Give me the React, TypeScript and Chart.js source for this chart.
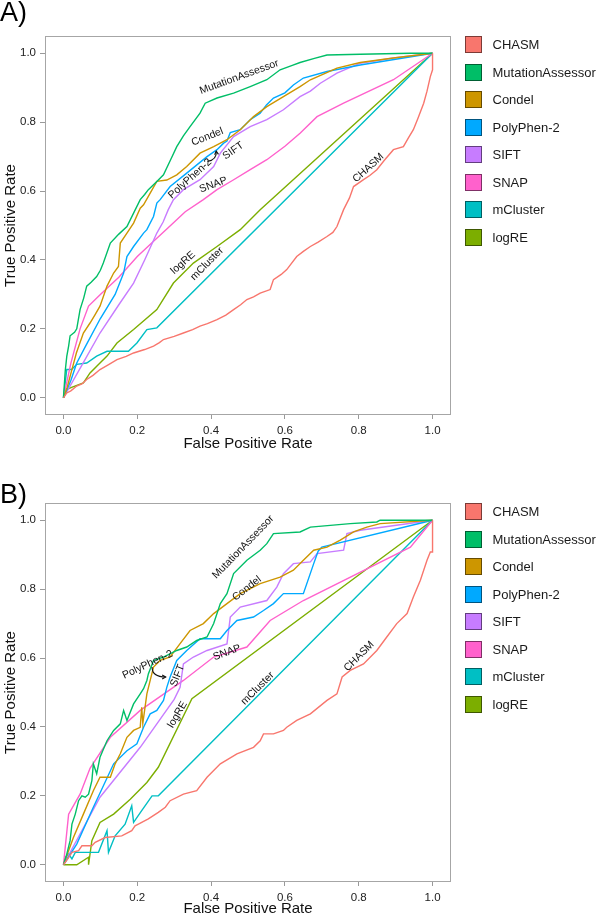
import React, { useEffect, useRef } from "react";
import { Chart, registerables } from "chart.js";

Chart.register(...registerables);

// ---- categories / styling keys ----
const METHODS = ["CHASM", "MutationAssessor", "Condel", "PolyPhen-2", "SIFT", "SNAP", "mCluster", "logRE"];
const COLORS = ["#F8766D", "#00BE67", "#CD9600", "#00A9FF", "#C77CFF", "#FF61CC", "#00BFC4", "#7CAE00"];
const X_TICKS = [0, 0.2, 0.4, 0.6, 0.8, 1.0];
const Y_TICKS = [0, 0.2, 0.4, 0.6, 0.8, 1.0];

// ---- Panel A: [false positive rate, true positive rate] ----
const chasmA = [
  [0, 0], [0.009, 0.014], [0.02, 0.02], [0.036, 0.034], [0.05, 0.04], [0.063, 0.053], [0.08, 0.065], [0.099, 0.082],
  [0.12, 0.095], [0.145, 0.111], [0.17, 0.12], [0.19, 0.13], [0.22, 0.14], [0.244, 0.15], [0.26, 0.16], [0.271, 0.169],
  [0.3, 0.178], [0.325, 0.188], [0.35, 0.198], [0.37, 0.208], [0.39, 0.215], [0.416, 0.227], [0.44, 0.24], [0.461, 0.256],
  [0.48, 0.27], [0.497, 0.285], [0.515, 0.293], [0.533, 0.304], [0.55, 0.31], [0.56, 0.314], [0.569, 0.343], [0.59, 0.358],
  [0.605, 0.372], [0.632, 0.41], [0.65, 0.425], [0.669, 0.439], [0.69, 0.452], [0.714, 0.468], [0.73, 0.48], [0.741, 0.497],
  [0.759, 0.546], [0.775, 0.58], [0.786, 0.613], [0.813, 0.633], [0.83, 0.645], [0.849, 0.662], [0.87, 0.69], [0.894, 0.72],
  [0.921, 0.729], [0.935, 0.755], [0.948, 0.778], [0.96, 0.81], [0.976, 0.855], [0.985, 0.89], [0.994, 0.932], [1, 0.952], [1, 1],
];
const mutA = [
  [0, 0], [0.005, 0.08], [0.009, 0.12], [0.014, 0.15], [0.018, 0.18], [0.03, 0.19], [0.036, 0.2], [0.045, 0.256],
  [0.055, 0.29], [0.063, 0.324], [0.075, 0.335], [0.09, 0.352], [0.1, 0.37], [0.108, 0.391], [0.127, 0.449], [0.15, 0.475],
  [0.172, 0.497], [0.19, 0.536], [0.208, 0.575], [0.22, 0.59], [0.23, 0.604], [0.253, 0.628], [0.271, 0.647], [0.29, 0.69],
  [0.307, 0.729], [0.325, 0.76], [0.343, 0.787], [0.37, 0.826], [0.384, 0.855], [0.416, 0.87], [0.461, 0.884], [0.506, 0.903],
  [0.551, 0.923], [0.587, 0.952], [0.62, 0.965], [0.641, 0.973], [0.68, 0.985], [0.714, 0.995], [0.804, 0.997], [0.94, 1], [1, 1],
];
const condelA = [
  [0, 0], [0.01, 0.03], [0.02, 0.07], [0.035, 0.13], [0.054, 0.188], [0.072, 0.217], [0.085, 0.24], [0.099, 0.266],
  [0.118, 0.324], [0.136, 0.362], [0.149, 0.381], [0.154, 0.449], [0.172, 0.478], [0.19, 0.507], [0.208, 0.55], [0.217, 0.56],
  [0.235, 0.594], [0.253, 0.628], [0.28, 0.632], [0.307, 0.647], [0.334, 0.671], [0.37, 0.71], [0.407, 0.729], [0.443, 0.749],
  [0.479, 0.778], [0.515, 0.816], [0.551, 0.845], [0.596, 0.874], [0.641, 0.903], [0.669, 0.923], [0.741, 0.957], [0.804, 0.973],
  [0.894, 0.986], [1, 1],
];
const ppA = [
  [0, 0], [0.02, 0.05], [0.036, 0.101], [0.06, 0.15], [0.1, 0.23], [0.14, 0.3], [0.163, 0.362], [0.172, 0.41], [0.19, 0.439],
  [0.217, 0.478], [0.226, 0.488], [0.244, 0.526], [0.253, 0.565], [0.262, 0.575], [0.289, 0.613], [0.334, 0.652], [0.389, 0.7],
  [0.416, 0.72], [0.434, 0.739], [0.443, 0.745], [0.452, 0.77], [0.479, 0.778], [0.506, 0.807], [0.533, 0.826], [0.55, 0.85],
  [0.569, 0.87], [0.6, 0.885], [0.623, 0.908], [0.65, 0.928], [0.714, 0.947], [0.804, 0.966], [1, 1],
];
const siftA = [
  [0, 0], [0.05, 0.095], [0.099, 0.188], [0.15, 0.27], [0.19, 0.333], [0.22, 0.4], [0.253, 0.478], [0.27, 0.51], [0.284, 0.546],
  [0.298, 0.575], [0.325, 0.604], [0.37, 0.633], [0.407, 0.671], [0.425, 0.71], [0.461, 0.758], [0.506, 0.787], [0.551, 0.807],
  [0.596, 0.836], [0.641, 0.874], [0.669, 0.89], [0.696, 0.913], [0.741, 0.942], [0.804, 0.971], [0.894, 0.986], [1, 1],
];
const snapA = [
  [0, 0], [0.02, 0.1], [0.045, 0.2], [0.068, 0.266], [0.1, 0.3], [0.15, 0.35], [0.2, 0.41], [0.25, 0.46], [0.28, 0.49],
  [0.33, 0.54], [0.379, 0.575], [0.416, 0.604], [0.46, 0.632], [0.506, 0.662], [0.551, 0.691], [0.6, 0.73], [0.641, 0.768],
  [0.687, 0.816], [0.759, 0.855], [0.894, 0.923], [1, 1],
];
const mclA = [
  [0, 0], [0.009, 0.082], [0.022, 0.082], [0.036, 0.097], [0.063, 0.101], [0.09, 0.121], [0.118, 0.135], [0.176, 0.135],
  [0.199, 0.159], [0.226, 0.198], [0.253, 0.203], [1, 1],
];
const logreA = [
  [0, 0], [0.009, 0.024], [0.022, 0.03], [0.054, 0.043], [0.072, 0.072], [0.099, 0.101], [0.118, 0.121], [0.145, 0.159],
  [0.19, 0.198], [0.253, 0.256], [0.298, 0.333], [0.352, 0.391], [0.416, 0.439], [0.479, 0.488], [0.533, 0.546], [1, 1],
];

// ---- Panel B ----
const chasmB = [
  [0, 0], [0.014, 0.021], [0.023, 0.036], [0.041, 0.041], [0.05, 0.055], [0.077, 0.055], [0.086, 0.065], [0.113, 0.079],
  [0.158, 0.084], [0.185, 0.099], [0.194, 0.113], [0.203, 0.118], [0.23, 0.133], [0.257, 0.152], [0.276, 0.167], [0.289, 0.186],
  [0.325, 0.205], [0.361, 0.215], [0.389, 0.254], [0.425, 0.293], [0.47, 0.322], [0.515, 0.341], [0.533, 0.36], [0.542, 0.38],
  [0.569, 0.38], [0.596, 0.39], [0.605, 0.399], [0.632, 0.419], [0.669, 0.438], [0.714, 0.477], [0.741, 0.496], [0.755, 0.545],
  [0.777, 0.564], [0.813, 0.583], [0.849, 0.622], [0.876, 0.661], [0.903, 0.7], [0.931, 0.729], [0.948, 0.777], [0.967, 0.826],
  [0.985, 0.884], [0.994, 0.908], [1, 0.908], [1, 1],
];
const mutB = [
  [0, 0], [0.009, 0.031], [0.018, 0.07], [0.023, 0.118], [0.032, 0.147], [0.041, 0.186], [0.05, 0.2], [0.059, 0.196],
  [0.068, 0.205], [0.077, 0.244], [0.081, 0.293], [0.09, 0.264], [0.099, 0.312], [0.118, 0.36], [0.136, 0.39], [0.154, 0.409],
  [0.163, 0.448], [0.172, 0.419], [0.19, 0.467], [0.208, 0.496], [0.217, 0.511], [0.226, 0.535], [0.23, 0.554], [0.244, 0.593],
  [0.271, 0.603], [0.307, 0.622], [0.334, 0.632], [0.361, 0.651], [0.389, 0.661], [0.407, 0.7], [0.425, 0.758], [0.443, 0.787],
  [0.461, 0.845], [0.497, 0.884], [0.533, 0.913], [0.551, 0.932], [0.569, 0.961], [0.641, 0.966], [0.669, 0.98], [0.777, 0.99],
  [0.849, 0.995], [0.858, 1], [1, 1],
];
const condelB = [
  [0, 0], [0.027, 0.079], [0.054, 0.147], [0.081, 0.215], [0.099, 0.254], [0.127, 0.254], [0.14, 0.293], [0.154, 0.322],
  [0.172, 0.37], [0.19, 0.39], [0.208, 0.399], [0.212, 0.457], [0.215, 0.41], [0.226, 0.496], [0.235, 0.535], [0.244, 0.574],
  [0.262, 0.593], [0.289, 0.603], [0.316, 0.642], [0.343, 0.68], [0.379, 0.7], [0.407, 0.729], [0.443, 0.758], [0.479, 0.787],
  [0.533, 0.816], [0.587, 0.835], [0.623, 0.855], [0.65, 0.884], [0.678, 0.913], [0.714, 0.922], [0.75, 0.942], [0.786, 0.966],
  [0.822, 0.98], [0.858, 0.99], [1, 1],
];
const ppB = [
  [0, 0], [0.036, 0.06], [0.081, 0.167], [0.136, 0.293], [0.172, 0.331], [0.199, 0.351], [0.217, 0.399], [0.235, 0.438],
  [0.253, 0.448], [0.271, 0.477], [0.28, 0.515], [0.289, 0.545], [0.307, 0.593], [0.334, 0.622], [0.37, 0.656], [0.425, 0.656],
  [0.443, 0.68], [0.47, 0.709], [0.515, 0.719], [0.542, 0.738], [0.569, 0.758], [0.596, 0.787], [0.65, 0.787], [0.678, 0.874],
  [0.69, 0.91], [0.7, 0.922], [1, 1],
];
const siftB = [
  [0, 0], [0.099, 0.196], [0.208, 0.341], [0.3, 0.48], [0.316, 0.515], [0.325, 0.583], [0.352, 0.603], [0.389, 0.622],
  [0.443, 0.641], [0.452, 0.719], [0.479, 0.748], [0.551, 0.767], [0.578, 0.806], [0.596, 0.845], [0.623, 0.874], [0.669, 0.879],
  [0.687, 0.903], [0.759, 0.913], [0.768, 0.961], [0.804, 0.971], [1, 1],
];
const snapB = [
  [0, 0], [0.014, 0.147], [0.045, 0.205], [0.072, 0.28], [0.127, 0.37], [0.208, 0.448], [0.325, 0.535], [0.407, 0.603],
  [0.497, 0.632], [0.56, 0.709], [0.65, 0.767], [0.94, 0.922], [1, 1],
];
const mclB = [
  [0, 0], [0.005, 0.021], [0.014, 0.031], [0.023, 0.017], [0.032, 0.036], [0.095, 0.036], [0.118, 0.099], [0.122, 0.036],
  [0.14, 0.084], [0.167, 0.118], [0.185, 0.171], [0.19, 0.123], [0.212, 0.157], [0.24, 0.2], [0.257, 0.2], [1, 1],
];
const logreB = [
  [0, 0], [0.036, 0], [0.068, 0.022], [0.068, 0], [0.077, 0.07], [0.099, 0.123], [0.136, 0.147], [0.181, 0.19],
  [0.226, 0.239], [0.257, 0.283], [0.348, 0.482], [1, 1],
];

const SERIES_A = [chasmA, mutA, condelA, ppA, siftA, snapA, mclA, logreA];
const SERIES_B = [chasmB, mutB, condelB, ppB, siftB, snapB, mclB, logreB];

// ---- curve annotations (data coordinates) ----
const CURVE_LABELS_A = [
  { text: "MutationAssessor", x: 0.476, y: 0.931, angle: -20 },
  { text: "Condel", x: 0.39, y: 0.757, angle: -22 },
  { text: "PolyPhen-2", x: 0.343, y: 0.636, angle: -42 },
  { text: "SIFT", x: 0.46, y: 0.717, angle: -35 },
  { text: "SNAP", x: 0.406, y: 0.618, angle: -20 },
  { text: "logRE", x: 0.324, y: 0.392, angle: -42 },
  { text: "mCluster", x: 0.389, y: 0.389, angle: -45 },
  { text: "CHASM", x: 0.826, y: 0.667, angle: -42 },
];
const CURVE_LABELS_B = [
  { text: "MutationAssessor", x: 0.487, y: 0.922, angle: -46 },
  { text: "Condel", x: 0.497, y: 0.802, angle: -38 },
  { text: "PolyPhen-2", x: 0.228, y: 0.581, angle: -25 },
  { text: "SIFT", x: 0.309, y: 0.549, angle: -68 },
  { text: "SNAP", x: 0.443, y: 0.616, angle: -20 },
  { text: "logRE", x: 0.309, y: 0.436, angle: -60 },
  { text: "mCluster", x: 0.526, y: 0.512, angle: -45 },
  { text: "CHASM", x: 0.801, y: 0.605, angle: -45 },
];
const ARROW_A = { from: [0.39, 0.686], ctrl: [0.416, 0.69], to: [0.414, 0.716] };
const ARROW_B = { from: [0.24, 0.574], ctrl: [0.24, 0.545], to: [0.277, 0.545] };

const FONT = "'Liberation Sans', Arial, Helvetica, sans-serif";

const curveLabelPlugin = {
  id: "curveLabels",
  afterDatasetsDraw(chart: any, _args: any, opts: any) {
    const { ctx, scales } = chart;
    const xs = scales.x;
    const ys = scales.y;
    ctx.save();
    ctx.font = `10.5px ${FONT}`;
    ctx.fillStyle = "#111";
    ctx.textAlign = "center";
    ctx.textBaseline = "middle";
    for (const l of opts.labels || []) {
      ctx.save();
      ctx.translate(xs.getPixelForValue(l.x), ys.getPixelForValue(l.y));
      ctx.rotate((l.angle * Math.PI) / 180);
      ctx.fillText(l.text, 0, 0);
      ctx.restore();
    }
    const a = opts.arrow;
    if (a) {
      const p = (pt: number[]) => [xs.getPixelForValue(pt[0]), ys.getPixelForValue(pt[1])];
      const [x0, y0] = p(a.from);
      const [cx, cy] = p(a.ctrl);
      const [x1, y1] = p(a.to);
      ctx.strokeStyle = "#111";
      ctx.lineWidth = 1.1;
      ctx.beginPath();
      ctx.moveTo(x0, y0);
      ctx.quadraticCurveTo(cx, cy, x1, y1);
      ctx.stroke();
      const ang = Math.atan2(y1 - cy, x1 - cx);
      const len = 4;
      ctx.beginPath();
      ctx.moveTo(x1 - len * Math.cos(ang - 0.5), y1 - len * Math.sin(ang - 0.5));
      ctx.lineTo(x1, y1);
      ctx.lineTo(x1 - len * Math.cos(ang + 0.5), y1 - len * Math.sin(ang + 0.5));
      ctx.stroke();
    }
    ctx.restore();
  },
};

const frameLegendPlugin = {
  id: "frameLegend",
  afterDraw(chart: any) {
    const { ctx, chartArea } = chart;
    ctx.save();
    ctx.strokeStyle = "#a6a6a6";
    ctx.lineWidth = 1;
    ctx.strokeRect(
      Math.round(chartArea.left) + 0.5,
      Math.round(chartArea.top) + 0.5,
      Math.round(chartArea.right - chartArea.left) - 1,
      Math.round(chartArea.bottom - chartArea.top) - 1
    );
    // legend built from the chart's own datasets
    const boxLeft = chartArea.right + 14;
    const textLeft = boxLeft + 27.5;
    ctx.font = `13px ${FONT}`;
    ctx.textBaseline = "middle";
    ctx.textAlign = "left";
    chart.data.datasets.forEach((ds: any, i: number) => {
      const top = Math.round(chartArea.top + 27.5 * i);
      ctx.fillStyle = ds.borderColor;
      ctx.fillRect(boxLeft, top, 17, 17);
      ctx.strokeStyle = "rgba(0,0,0,0.5)";
      ctx.strokeRect(boxLeft + 0.5, top + 0.5, 16, 16);
      ctx.fillStyle = "#1a1a1a";
      ctx.fillText(ds.label, textLeft, top + 9);
    });
    ctx.restore();
  },
};

type PanelCfg = {
  tag: string;
  height: number;
  padBottom: number;
  tagPadding: { top: number; bottom: number };
  xTitleLineHeight: number;
  series: number[][][];
  labels: any[];
  arrow: any;
};

const PANELS: PanelCfg[] = [
  { tag: "A)", height: 467, padBottom: 20, tagPadding: { top: 0, bottom: 9 }, xTitleLineHeight: 0.4, series: SERIES_A, labels: CURVE_LABELS_A, arrow: ARROW_A },
  { tag: "B)", height: 447, padBottom: 0, tagPadding: { top: 15, bottom: -6 }, xTitleLineHeight: 0.75, series: SERIES_B, labels: CURVE_LABELS_B, arrow: ARROW_B },
];

function Panel({ cfg }: { cfg: PanelCfg }) {
  const ref = useRef<HTMLCanvasElement>(null);
  useEffect(() => {
    Chart.defaults.font.family = FONT;
    const datasets = METHODS.map((m, i) => ({
      label: m,
      data: cfg.series[i].map(([x, y]) => ({ x, y })),
      borderColor: COLORS[i],
      backgroundColor: COLORS[i],
      borderWidth: 1.4,
      pointRadius: 0,
      tension: 0,
      fill: false,
    }));
    const chart = new Chart(ref.current as HTMLCanvasElement, {
      type: "line",
      data: { datasets },
      plugins: [curveLabelPlugin, frameLegendPlugin],
      options: {
        animation: false,
        responsive: false,
        devicePixelRatio: 1,
        events: [],
        layout: { padding: { left: 0, right: 149, top: 0, bottom: cfg.padBottom } },
        plugins: {
          legend: { display: false },
          tooltip: { enabled: false },
          title: {
            display: true,
            text: cfg.tag,
            align: "start",
            color: "#000",
            font: { size: 27, weight: "normal", lineHeight: 1 },
            padding: cfg.tagPadding,
          },
          curveLabels: { labels: cfg.labels, arrow: cfg.arrow },
        } as any,
        scales: {
          x: {
            type: "linear",
            min: -0.05,
            max: 1.05,
            afterBuildTicks: (s: any) => {
              s.ticks = X_TICKS.map((v) => ({ value: v }));
            },
            afterFit: (s: any) => {
              s.height = 32;
            },
            ticks: {
              callback: (v: any) => Number(v).toFixed(1),
              font: { size: 11.5 },
              color: "#222",
              padding: 5,
              maxRotation: 0,
              autoSkip: false,
            },
            grid: { display: true, drawOnChartArea: false, drawTicks: true, tickLength: 4, color: "#999" },
            border: { display: false },
            title: {
              display: true,
              text: "False Positive Rate",
              color: "#111",
              font: { size: 15, lineHeight: cfg.xTitleLineHeight },
              padding: 0,
            },
          },
          y: {
            type: "linear",
            min: -0.05,
            max: 1.05,
            afterBuildTicks: (s: any) => {
              s.ticks = Y_TICKS.map((v) => ({ value: v }));
            },
            afterFit: (s: any) => {
              s.width = 45;
            },
            ticks: {
              callback: (v: any) => Number(v).toFixed(1),
              font: { size: 11.5 },
              color: "#222",
              padding: 4,
              autoSkip: false,
            },
            grid: { display: true, drawOnChartArea: false, drawTicks: true, tickLength: 5, color: "#999" },
            border: { display: false },
            title: { display: true, text: "True Positive Rate", color: "#111", font: { size: 15, lineHeight: 1 }, padding: { top: 3.5, bottom: 0 } },
          },
        },
      } as any,
    });
    return () => chart.destroy();
  }, [cfg]);
  return <canvas ref={ref} width={600} height={cfg.height} style={{ display: "block", width: 600, height: cfg.height }} />;
}

export default function App() {
  return (
    <div style={{ position: "absolute", left: 0, top: 0, width: 600, height: 914, background: "#fff", overflow: "hidden" }}>
      {PANELS.map((p) => (
        <Panel key={p.tag} cfg={p} />
      ))}
    </div>
  );
}
